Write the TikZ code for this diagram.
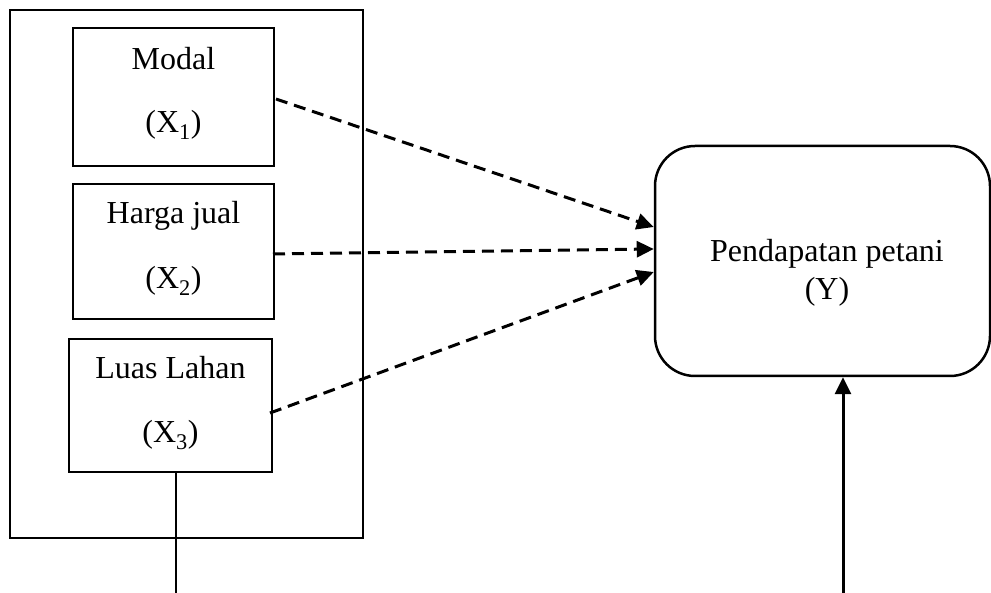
\documentclass[tikz,border=0pt]{standalone}
\usepackage{fontspec}
\setmainfont{Liberation Serif}
\usetikzlibrary{arrows.meta,calc}
\begin{document}
\begin{tikzpicture}[x=1pt,y=-1pt,
  box/.style={draw,line width=2pt,inner sep=0pt},
  txt/.style={inner sep=0pt,anchor=base,font=\fontsize{32}{38}\selectfont},
  dasharrow/.style={line width=3pt,dash pattern=on 12pt off 7pt,-{Triangle[length=17pt,width=16pt]}},
  solidarrow/.style={line width=3pt,-{Triangle[length=17pt,width=16pt]}}]
\useasboundingbox (0,0) rectangle (991,593);
\node[box,minimum width=353pt,minimum height=528pt] (outer) at (186.5,274) {};
\node[box,minimum width=201pt,minimum height=138pt] (modal) at (173.5,97) {};
\node[box,minimum width=201pt,minimum height=135pt] (harga) at (173.5,251.5) {};
\node[box,minimum width=203pt,minimum height=133pt] (luas) at (170.5,405.5) {};
\node[box,line width=2.5pt,rounded corners=40pt,minimum width=335pt,minimum height=230pt] (Y) at (822.5,261) {};
\node[txt] (t1) at (173.5,70) {Modal};
\node[txt] (t1b) at (173.5,133) {(X\textsubscript{1})};
\node[txt] (t2) at (173.5,224) {Harga jual};
\node[txt] (t2b) at (173.5,289) {(X\textsubscript{2})};
\node[txt] (t3) at (170.5,379) {Luas Lahan};
\node[txt] (t3b) at (170.5,443) {(X\textsubscript{3})};
\node[txt] (ty) at (827,262) {Pendapatan petani};
\node[txt] (tyb) at (827,300) {(Y)};
\coordinate (lb) at (176,593);
\coordinate (yb) at (843,593);
\draw[dasharrow] ($(modal.east)+(1,2)$) -- ([yshift=34pt]Y.west);
\draw[dasharrow] ($(harga.east)+(-2,2.5)$) -- ([yshift=12pt]Y.west);
\draw[dasharrow] ($(luas.east)+(-3,7.5)$) -- ([yshift=-11pt]Y.west);
\draw[line width=1.5pt] (luas.south -| lb) -- (lb);
\draw[solidarrow] (yb) -- (Y.south -| yb);
\end{tikzpicture}
\end{document}
